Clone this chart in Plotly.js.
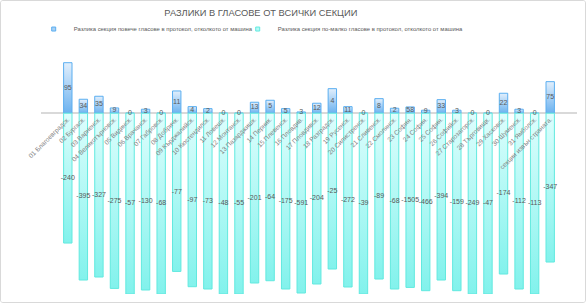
<!DOCTYPE html>
<html>
<head>
<meta charset="utf-8">
<script src="https://cdn.plot.ly/plotly-3.0.1.min.js"></script>
<style>
  html, body { margin: 0; padding: 0; background: #ffffff; }
  #frame { width: 586px; height: 303px; box-sizing: border-box; border: 1px solid #d9d9d9; border-radius: 3px; overflow: hidden; }
  #chart { width: 584px; height: 301px; }
</style>
</head>
<body>
<div id="frame"><div id="chart"></div></div>
<script>
// Categories (sections by region)
const categories = [
  "01 Благоевградск.", "02 Бургаск.", "03 Варненск.", "04 Великотърновск.", "05 Видинск.",
  "06 Врачанск.", "07 Габровск.", "08 Добричк.", "09 Кърджалийск.", "10 Кюстендилск.",
  "11 Ловешк.", "12 Монтанск.", "13 Пазарджишк.", "14 Перник.", "15 Плевенск.",
  "16 Пловдив.", "17 Пловдивск.", "18 Разградск.", "19 Русенск.", "20 Силистренск.",
  "21 Сливенск.", "22 Смолянск.", "23 София.", "24 София.", "25 София.",
  "26 Софийск.", "27 Старозагорск.", "28 Търговищк.", "29 Хасковск.", "30 Шуменск.",
  "31 Ямболск.", "секции извън страната."
];

// Bar lengths as drawn in the reference (relative scale)
const moreBars = [50.6, 14, 17, 5.3, 0, 4, 0, 22.3, 6.6, 4.6, 0, 0, 11, 13, 4.6, 1.3,
                  10, 24.6, 6.6, 0, 14.6, 5, 6.3, 3, 13.6, 3, 0, 0, 20, 4, 0, 31.6];
const lessBars = [-130, -167, -164, -175.4, -181, -177, -181, -158.4, -173.7, -176,
                  -181, -181, -170, -167.7, -176, -180, -171, -156, -174, -181,
                  -166, -176, -174.4, -177.7, -167, -177.7, -181, -181, -161, -176,
                  -181, -149];

// Data labels shown on the bars
const moreLabels = [95, 34, 35, 9, 0, 3, 0, 11, 4, 2, 0, 0, 13, 5, 5, 3,
                    12, 4, 11, 0, 8, 2, 58, 9, 33, 3, 0, 0, 22, 3, 0, 75];
const lessLabels = [-240, -395, -327, -275, -57, -130, -68, -77, -97, -73,
                    -48, -55, -201, -64, -175, -591, -204, -25, -272, -39,
                    -89, -68, -1505, -466, -394, -159, -249, -47, -174, -112,
                    -113, -347];

const seriesNames = [
  "Разлика секция повече гласове в протокол, отколкото от машина",
  "Разлика секция по-малко гласове в протокол, отколкото от машина"
];

const yRange = [-181, 56.3];
const zeroPos = (0 - yRange[0]) / (yRange[1] - yRange[0]);

const blueFill = "#a9d1f5", blueLine = "#5aaef0";
const cyanFill = "#b6faf6", cyanLine = "#62e9df";
const blueGrad = ["#e2effc", "#6cb2ef"];
const cyanGrad = ["#defefd", "#82f2ec"];
const labelFont = { family: "Liberation Sans, Arial, sans-serif", size: 7, color: "#595959" };

const traces = [
  {
    type: "bar", x: categories, y: moreBars, name: seriesNames[0],
    marker: { color: blueFill, line: { color: blueLine, width: 1 } },
    showlegend: false, hoverinfo: "skip"
  },
  {
    type: "bar", x: categories, y: lessBars, name: seriesNames[1],
    marker: { color: cyanFill, line: { color: cyanLine, width: 1 } },
    showlegend: false, hoverinfo: "skip"
  },
  {
    type: "scatter", mode: "text", x: categories, y: moreBars.map(v => v / 2),
    text: moreLabels.map(String), textfont: labelFont, textposition: "middle center",
    showlegend: false, hoverinfo: "skip", cliponaxis: false
  },
  {
    type: "scatter", mode: "text", x: categories, y: lessBars.map(v => v / 2),
    text: lessLabels.map(String), textfont: labelFont, textposition: "middle center",
    showlegend: false, hoverinfo: "skip", cliponaxis: false
  },
  // legend entries
  {
    type: "scatter", mode: "markers", x: [null], y: [null], name: seriesNames[0],
    marker: { symbol: "square", size: 4, color: blueFill, line: { color: blueLine, width: 1 } },
    hoverinfo: "skip", legend: "legend"
  },
  {
    type: "scatter", mode: "markers", x: [null], y: [null], name: seriesNames[1],
    marker: { symbol: "square", size: 4, color: cyanFill, line: { color: cyanLine, width: 1 } },
    hoverinfo: "skip", legend: "legend2"
  }
];

const legendBase = {
  orientation: "h", xanchor: "left", y: 1.118, yanchor: "middle",
  font: { size: 5.9, color: "#595959" },
  bgcolor: "rgba(0,0,0,0)", itemclick: false
};

const layout = {
  width: 584, height: 301,
  margin: { l: 40, r: 8, t: 56, b: 8 },
  paper_bgcolor: "#ffffff", plot_bgcolor: "#ffffff",
  font: { family: "Liberation Sans, Arial, sans-serif", color: "#595959" },
  title: {
    text: "РАЗЛИКИ В ГЛАСОВЕ ОТ ВСИЧКИ СЕКЦИИ",
    font: { size: 9.3, color: "#595959" },
    x: 0.445, xref: "container", xanchor: "center",
    y: 0.96, yref: "container", yanchor: "middle"
  },
  barmode: "relative",
  bargap: 0.46,
  showlegend: true,
  legend: Object.assign({}, legendBase, { x: -0.0136 }),
  legend2: Object.assign({}, legendBase, { x: 0.367 }),
  xaxis: {
    type: "category", anchor: "free", position: zeroPos,
    showline: false, ticks: "", showgrid: false, zeroline: false,
    tickangle: -45, tickfont: { size: 6.5, color: "#7f7f7f" },
    automargin: false, fixedrange: true
  },
  yaxis: {
    range: yRange, showticklabels: false, showgrid: false, ticks: "",
    zeroline: true, zerolinecolor: "#d9d9d9", zerolinewidth: 2,
    showline: false, automargin: false, fixedrange: true
  }
};

function addGradients(gd) {
  const svg = gd.querySelector("svg.main-svg");
  if (!svg) return;
  const ns = "http://www.w3.org/2000/svg";
  let defs = svg.querySelector("defs");
  if (!defs) { defs = document.createElementNS(ns, "defs"); svg.insertBefore(defs, svg.firstChild); }
  const make = (id, cols) => {
    const g = document.createElementNS(ns, "linearGradient");
    g.setAttribute("id", id);
    g.setAttribute("x1", "0"); g.setAttribute("y1", "0");
    g.setAttribute("x2", "0"); g.setAttribute("y2", "1");
    cols.forEach((c, i) => {
      const s = document.createElementNS(ns, "stop");
      s.setAttribute("offset", i === 0 ? "0" : "1");
      s.setAttribute("stop-color", c);
      g.appendChild(s);
    });
    defs.appendChild(g);
  };
  make("gradMore", blueGrad);
  make("gradLess", cyanGrad);
  const barTraces = gd.querySelectorAll(".barlayer .trace.bars");
  const ids = ["gradMore", "gradLess"];
  barTraces.forEach((t, i) => {
    t.querySelectorAll(".point path").forEach(p => { p.style.fill = "url(#" + ids[i] + ")"; });
  });
}

Plotly.newPlot("chart", traces, layout, { displayModeBar: false, staticPlot: true })
  .then(addGradients);
</script>
</body>
</html>
